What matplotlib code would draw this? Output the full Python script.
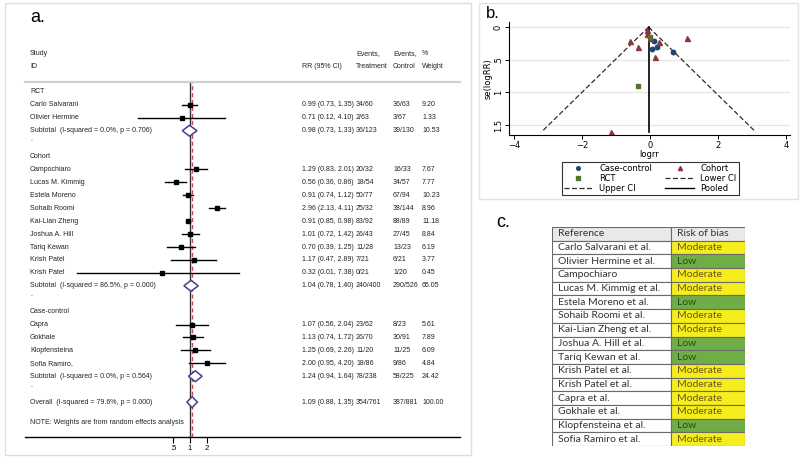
import matplotlib
matplotlib.use('Agg')
import matplotlib.pyplot as plt
import matplotlib.transforms as mtransforms
from matplotlib.lines import Line2D
from matplotlib.patches import Rectangle

W, H = 800, 467

# ---------------- a. forest plot data ----------------
groups = ['RCT', 'Cohort', 'Case-control']
study = ['Carlo Salvarani', 'Olivier Hermine',
         'Campochiaro', 'Lucas M. Kimmig', 'Estela Moreno', 'Sohaib Roomi',
         'Kai-Lian Zheng', 'Joshua A. Hill', 'Tariq Kewan', 'Krish Patel', 'Krish Patel',
         'Capra', 'Gokhale', 'Klopfensteina', 'Sofia Ramiro,']
study_group = [0, 0, 1, 1, 1, 1, 1, 1, 1, 1, 1, 2, 2, 2, 2]
rr = [0.99, 0.71, 1.29, 0.56, 0.91, 2.96, 0.91, 1.01, 0.70, 1.17, 0.32, 1.07, 1.13, 1.25, 2.00]
rr_lo = [0.73, 0.12, 0.83, 0.36, 0.74, 2.13, 0.85, 0.72, 0.39, 0.47, 0.01, 0.56, 0.74, 0.69, 0.95]
rr_hi = [1.35, 4.10, 2.01, 0.86, 1.12, 4.11, 0.98, 1.42, 1.25, 2.89, 7.38, 2.04, 1.72, 2.26, 4.20]
ev_trt = ['34/60', '2/63', '20/32', '18/54', '50/77', '25/32', '83/92', '26/43', '11/28', '7/21',
          '0/21', '23/62', '26/70', '11/20', '18/86']
ev_ctl = ['36/63', '3/67', '16/33', '34/57', '67/94', '38/144', '88/89', '27/45', '13/23', '6/21',
          '1/20', '8/23', '30/91', '11/25', '9/86']
weight = ['9.20', '1.33', '7.67', '7.77', '10.23', '8.96', '11.18', '8.84', '6.19', '3.77',
          '0.45', '5.61', '7.89', '6.09', '4.84']

sub_label = ['Subtotal  (I-squared = 0.0%, p = 0.706)',
             'Subtotal  (I-squared = 86.5%, p = 0.000)',
             'Subtotal  (I-squared = 0.0%, p = 0.564)']
sub_rr = [0.98, 1.04, 1.24]
sub_lo = [0.73, 0.78, 0.94]
sub_hi = [1.33, 1.40, 1.64]
sub_trt = ['36/123', '240/400', '78/238']
sub_ctl = ['39/130', '290/526', '58/225']
sub_w = ['10.53', '65.05', '24.42']

overall_label = 'Overall  (I-squared = 79.6%, p = 0.000)'
overall_rr, overall_lo, overall_hi = 1.09, 0.88, 1.35
overall_trt, overall_ctl, overall_w = '354/761', '387/881', '100.00'

# ---------------- b. funnel plot data ----------------
cc_logrr = [0.07, 0.12, 0.22, 0.69]
cc_se = [0.33, 0.22, 0.30, 0.38]
co_logrr = [0.26, -0.58, -0.09, 1.09, -0.09, 0.01, -0.36, 0.16, -1.14]
co_se = [0.23, 0.22, 0.11, 0.17, 0.04, 0.17, 0.30, 0.46, 1.61]
rct_logrr = [-0.01, -0.35]
rct_se = [0.16, 0.90]
pooled = -0.04
se_max = 1.61

# ---------------- c. risk of bias table ----------------
refs = ['Carlo Salvarani et al.', 'Olivier Hermine et al.', 'Campochiaro',
        'Lucas M. Kimmig et al.', 'Estela Moreno et al.', 'Sohaib Roomi et al.',
        'Kai-Lian Zheng et al.', 'Joshua A. Hill et al.', 'Tariq Kewan et al.',
        'Krish Patel et al.', 'Krish Patel et al.', 'Capra et al.', 'Gokhale et al.',
        'Klopfensteina et al.', 'Sofia Ramiro et al.']
bias = ['Moderate', 'Low', 'Moderate', 'Moderate', 'Low', 'Moderate', 'Moderate', 'Low',
        'Low', 'Moderate', 'Moderate', 'Moderate', 'Moderate', 'Low', 'Moderate']

narrow = ['Liberation Sans', 'DejaVu Sans']
fig = plt.figure(figsize=(W / 100, H / 100), dpi=100)


def fx(px):
    return px / W


def fy(py):
    return 1 - py / H


# panel frames
fig.add_artist(Rectangle((fx(5), fy(455)), fx(466), (455 - 3) / H, transform=fig.transFigure,
                         fill=False, ec='#dddddd', lw=1))
fig.add_artist(Rectangle((fx(479), fy(199)), fx(319), (199 - 3) / H, transform=fig.transFigure,
                         fill=False, ec='#e3e3e3', lw=1))

# ================= a. =================
ax = fig.add_axes([fx(25), fy(437), fx(435), (437 - 82) / H])
ax.set_xscale('log', base=2)
ax.set_xlim(2 ** -9.706, 2 ** 15.88)
ax.set_ylim(26.7, -0.77)
for s in ['left', 'right']:
    ax.spines[s].set_visible(False)
ax.spines['top'].set_color('#d0d0d0')
ax.spines['top'].set_linewidth(1.6)
ax.spines['bottom'].set_linewidth(1)
ax.set_yticks([])
ax.set_xticks([0.5, 1, 2])
ax.set_xticklabels(['.5', '1', '2'])
ax.xaxis.set_minor_locator(matplotlib.ticker.NullLocator())
ax.tick_params(axis='x', length=4, width=0.8, labelsize=5.5, pad=2)
for lab in ax.get_xticklabels():
    lab.set_family(narrow)

ax.axvline(1, color='#3b2a2e', lw=1, zorder=1)
ax.axvline(overall_rr, color='#c24a5a', lw=1, ls=(0, (3, 2)), zorder=1)

tx = mtransforms.blended_transform_factory(fig.transFigure, ax.transData)
col_name, col_rr, col_trt, col_ctl, col_w = fx(30), fx(302), fx(356), fx(393), fx(422)
tk = dict(transform=tx, fontsize=5.0, family=narrow, va='center', ha='left', color='#222222')

# headers
ax.text(col_name, -3, 'Study', **tk)
ax.text(col_name, -2, 'ID', **tk)
ax.text(col_rr, -2, 'RR (95% CI)', **tk)
ax.text(col_trt, -3, 'Events,', **tk)
ax.text(col_trt, -2, 'Treatment', **tk)
ax.text(col_ctl, -3, 'Events,', **tk)
ax.text(col_ctl, -2, 'Control', **tk)
ax.text(col_w, -3, '%', **tk)
ax.text(col_w, -2, 'Weight', **tk)


def diamond(y, est, lo, hi):
    ax.fill([lo, est, hi, est, lo], [y, y - 0.42, y, y + 0.42, y],
            facecolor='white', edgecolor='#463f8f', lw=1.1, zorder=3)


def row_text(y, label, est, lo, hi, trt, ctl, w):
    ax.text(col_name, y, label, **tk)
    ax.text(col_rr, y, '%.2f (%.2f, %.2f)' % (est, lo, hi), **tk)
    ax.text(col_trt, y, trt, **tk)
    ax.text(col_ctl, y, ctl, **tk)
    ax.text(col_w, y, w, **tk)


y = 0
for g, gname in enumerate(groups):
    ax.text(col_name, y, gname, **tk)
    y += 1
    for i in range(len(study)):
        if study_group[i] != g:
            continue
        ax.plot([rr_lo[i], rr_hi[i]], [y, y], color='black', lw=1, zorder=2)
        ax.plot(rr[i], y, marker='s', ms=2.4, color='black', zorder=4)
        row_text(y, study[i], rr[i], rr_lo[i], rr_hi[i], ev_trt[i], ev_ctl[i], weight[i])
        y += 1
    diamond(y, sub_rr[g], sub_lo[g], sub_hi[g])
    row_text(y, sub_label[g], sub_rr[g], sub_lo[g], sub_hi[g], sub_trt[g], sub_ctl[g], sub_w[g])
    y += 1
    ax.text(col_name, y - 0.3, '.', **tk)
    y += 1
# overall sits straight after the last spacer row
diamond(y, overall_rr, overall_lo, overall_hi)
row_text(y, overall_label, overall_rr, overall_lo, overall_hi, overall_trt, overall_ctl, overall_w)
ax.text(col_name, y + 1.55, 'NOTE: Weights are from random effects analysis', **tk)

fig.text(fx(30), fy(18), 'a.', fontsize=13, family='Liberation Sans', va='center', ha='left')

# ================= b. =================
bx = fig.add_axes([fx(509), fy(135), fx(281), (135 - 22) / H])
bx.set_xlim(-4.147, 4.12)
bx.set_ylim(1.654, -0.077)
for s in ['top', 'right']:
    bx.spines[s].set_visible(False)
for s in ['left', 'bottom']:
    bx.spines[s].set_linewidth(0.8)
bx.set_yticks([0, 0.5, 1, 1.5])
bx.set_yticklabels(['0', '.5', '1', '1.5'], rotation=90, va='center')
bx.set_xticks([-4, -2, 0, 2, 4])
bx.tick_params(labelsize=6, length=3, width=0.7, pad=1.5)
bx.grid(axis='y', color='#e6e6e6', lw=0.9)
bx.set_axisbelow(True)
bx.set_xlabel('logrr', fontsize=6, labelpad=0)
bx.set_ylabel('se(logRR)', fontsize=6, labelpad=1)

se_line = [0, se_max]
lower = [pooled - 1.96 * s for s in se_line]
upper = [pooled + 1.96 * s for s in se_line]
bx.plot(lower, se_line, color='#2b2b2b', lw=0.9, ls=(0, (4, 2)))
bx.plot(upper, se_line, color='#2b2b2b', lw=0.9, ls=(0, (4, 2)))
bx.plot([pooled, pooled], se_line, color='black', lw=1.2)
bx.plot(cc_logrr, cc_se, 'o', ms=3.2, color='#1a476f', ls='none')
bx.plot(co_logrr, co_se, '^', ms=3.6, color='#90353b', ls='none')
bx.plot(rct_logrr, rct_se, 's', ms=3.2, color='#55752f', ls='none')

h_cc = Line2D([], [], marker='o', ms=2.6, color='#1a476f', ls='none')
h_co = Line2D([], [], marker='^', ms=3, color='#90353b', ls='none')
h_rct = Line2D([], [], marker='s', ms=2.6, color='#55752f', ls='none')
h_lo = Line2D([], [], color='#2b2b2b', lw=0.9, ls=(0, (4, 2)))
h_up = Line2D([], [], color='#2b2b2b', lw=0.9, ls=(0, (4, 2)))
h_pool = Line2D([], [], color='black', lw=1.0)
leg = bx.legend([h_cc, h_rct, h_up, h_co, h_lo, h_pool],
                ['Case-control', 'RCT', 'Upper CI', 'Cohort', 'Lower CI', 'Pooled'],
                ncol=2, loc='upper center', bbox_to_anchor=(fx(650.5), fy(158)),
                bbox_transform=fig.transFigure, fontsize=6, frameon=True, fancybox=False,
                edgecolor='black', handlelength=3.4, columnspacing=1.6, labelspacing=0.12,
                borderpad=0.25, handletextpad=0.8)
leg.get_frame().set_linewidth(0.8)

fig.text(fx(486), fy(13), 'b.', fontsize=12, family='Liberation Sans', va='center', ha='left')

# ================= c. =================
cx = fig.add_axes([fx(552), fy(446), fx(193), (446 - 227) / H])
cx.set_xlim(0, 1)
cx.set_ylim(len(refs) + 0.5, -0.5)
cx.axis('off')
split = 0.617
bias_face = {'Moderate': '#f6ee1c', 'Low': '#71ad47'}
bias_text = {'Moderate': '#6a5514', 'Low': '#1f4f1c'}
tf = dict(fontsize=7.5, family=['Lato', 'DejaVu Sans'], va='center', ha='left')

cx.barh(0, split, left=0, height=1, color='#e9e9e9', edgecolor='#6a6a6a', lw=0.8)
cx.barh(0, 1 - split, left=split, height=1, color='#e9e9e9', edgecolor='#6a6a6a', lw=0.8)
cx.text(0.03, 0, 'Reference', color='#333333', **tf)
cx.text(split + 0.03, 0, 'Risk of bias', color='#333333', **tf)
rows = list(range(1, len(refs) + 1))
cx.barh(rows, [split] * len(refs), left=0, height=1, color='white', edgecolor='#6a6a6a', lw=0.8)
cx.barh(rows, [1 - split] * len(refs), left=split, height=1,
        color=[bias_face[b] for b in bias], edgecolor='#6a6a6a', lw=0.8)
for r, name, b in zip(rows, refs, bias):
    cx.text(0.03, r, name, color='#333333', **tf)
    cx.text(split + 0.03, r, b, color=bias_text[b], **tf)

fig.text(fx(496), fy(222), 'c.', fontsize=13, family='Liberation Sans', va='center', ha='left')

fig.savefig('out.png', dpi=100)
